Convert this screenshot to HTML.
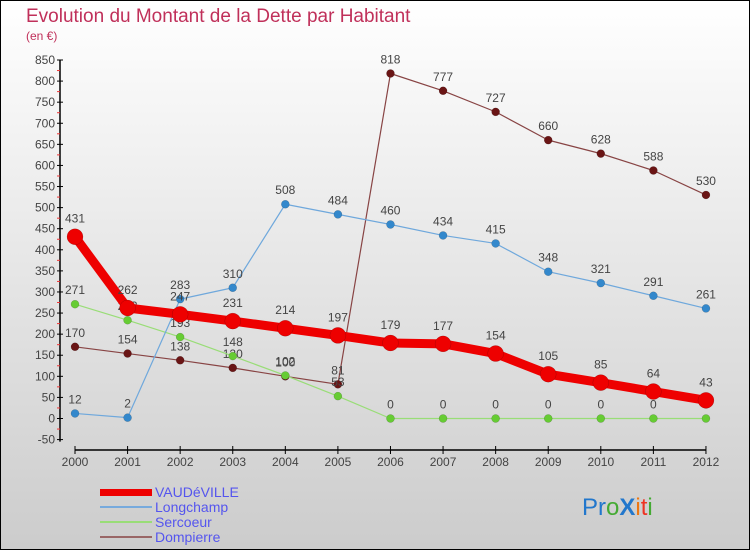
<!DOCTYPE html>
<html><head><meta charset="utf-8"><style>
html,body{margin:0;padding:0}
body{width:750px;height:550px;overflow:hidden;font-family:"Liberation Sans",sans-serif}
</style></head><body>
<svg width="750" height="550" xmlns="http://www.w3.org/2000/svg">
<defs><linearGradient id="bg" x1="0" y1="0" x2="0" y2="1"><stop offset="0" stop-color="#ffffff"/><stop offset="1" stop-color="#cccccc"/></linearGradient></defs>
<rect x="0.5" y="0.5" width="749" height="549" fill="url(#bg)" stroke="#000"/>
<text x="26" y="22" font-size="19" fill="#c0305a">Evolution du Montant de la Dette par Habitant</text>
<text x="26" y="40" font-size="12" fill="#c0305a">(en €)</text>
<g id="axes"></g>
<g id="series"></g>
<g id="legend">
<rect x="100" y="489" width="52" height="7" fill="#ee0000"/>
<text x="155" y="497" font-size="14" fill="#5555ee">VAUDéVILLE</text>
<rect x="100" y="506" width="52" height="2" fill="#77aadd"/>
<text x="155" y="512" font-size="14" fill="#5555ee">Longchamp</text>
<rect x="100" y="521" width="52" height="2" fill="#99dd77"/>
<text x="155" y="527" font-size="14" fill="#5555ee">Sercoeur</text>
<rect x="100" y="536" width="52" height="2" fill="#996666"/>
<text x="155" y="542" font-size="14" fill="#5555ee">Dompierre</text>
</g>
<text x="582" y="515" font-size="24" font-family="Liberation Sans,sans-serif"><tspan fill="#2277cc">Pr</tspan><tspan fill="#44aa33">o</tspan><tspan fill="#2277cc" font-weight="bold">X</tspan><tspan fill="#ee7711">i</tspan><tspan fill="#ee3322">t</tspan><tspan fill="#44aa33">i</tspan></text>
</svg>
<script>
const years=[2000,2001,2002,2003,2004,2005,2006,2007,2008,2009,2010,2011,2012];
const vaudeville=[431,262,247,231,214,197,179,177,154,105,85,64,43];
const longchamp=[12,2,283,310,508,484,460,434,415,348,321,291,261];
const sercoeur=[271,233,193,148,102,53,0,0,0,0,0,0,0];
const dompierre=[170,154,138,120,100,81,818,777,727,660,628,588,530];
const yTicks=[-50,0,50,100,150,200,250,300,350,400,450,500,550,600,650,700,750,800,850];
const NS="http://www.w3.org/2000/svg";
const x0=75,dx=52.58,yZero=418.5,k=358.5/850;
const X=i=>x0+i*dx, Y=v=>yZero-v*k;
function mk(tag,attrs,parent){const e=document.createElementNS(NS,tag);for(const a in attrs)e.setAttribute(a,attrs[a]);parent.appendChild(e);return e;}
const ax=document.getElementById('axes');
let l=mk('line',{x1:60,y1:Y(850),x2:60,y2:Y(-50)+2,stroke:'#000','stroke-width':1.5},ax);


yTicks.forEach(v=>{
 let t=mk('line',{x1:57,y1:Y(v),x2:63,y2:Y(v),stroke:'#000'},ax);
 
 
 if(v<850){let m=mk('line',{x1:57,y1:Y(v+25),x2:60,y2:Y(v+25),stroke:'#ee3333'},ax);
 
 }
 let s=mk('text',{x:55,y:Y(v)+4,'font-size':12,fill:'#444','text-anchor':'end'},ax);s.textContent=v;
 
 
});
let xa=mk('line',{x1:X(0),y1:450,x2:X(12),y2:450,stroke:'#000','stroke-width':1.5},ax);


years.forEach((yr,i)=>{
 let t=mk('line',{x1:X(i),y1:446,x2:X(i),y2:454,stroke:'#000'},ax);
 
 
 let s=mk('text',{x:X(i),y:466,'font-size':12,fill:'#444','text-anchor':'middle'},ax);s.textContent=yr;
 
 
});
const sg=document.getElementById('series');
function series(name,data,color,dot,w,r){
 const g=mk('g',{},sg);
 
 
 const p=mk('polyline',{points:data.map((v,i)=>X(i)+','+Y(v)).join(' '),fill:'none',stroke:color,'stroke-width':w,'stroke-linejoin':'round'},g);
 
 
 data.forEach((v,i)=>{
  const c=mk('circle',{cx:X(i),cy:Y(v),r:r,fill:dot,stroke:'rgba(0,0,0,0.25)','stroke-width':0.5},g);
  
  
  const t=mk('text',{x:X(i),y:Y(v)-(r+6),'font-size':12,fill:'#444','text-anchor':'middle'},g);t.textContent=v;
  
  
 });
}
series('dompierre',dompierre,'#884444','#6a1515',1.2,4);
series('sercoeur',sercoeur,'#99dd77','#66cc33',1.2,4);
series('longchamp',longchamp,'#6fa8dc','#3388cc',1.2,4);
series('vaudeville',vaudeville,'#ee0000','#ee0000',9,8);
</script>
</body></html>
